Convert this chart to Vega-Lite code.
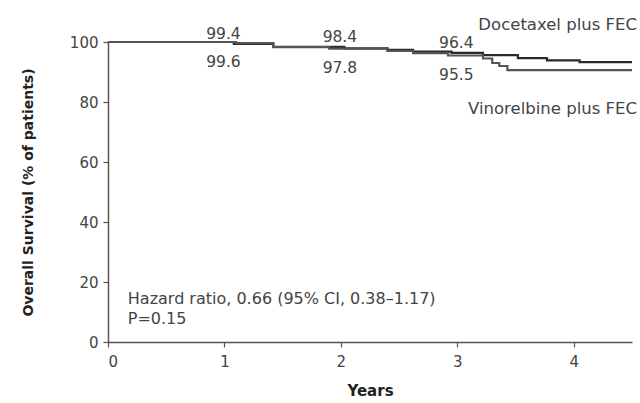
{
  "$schema": "https://vega.github.io/schema/vega-lite/v6.json",
  "width": 524,
  "height": 300,
  "autosize": {"type": "none"},
  "padding": {"left": 108, "top": 42, "right": 8, "bottom": 61},
  "background": "white",
  "config": {
    "font": "DejaVu Sans",
    "view": {"stroke": null},
    "text": {"font": "DejaVu Sans"},
    "axis": {
      "domainColor": "#555",
      "domainWidth": 1.5,
      "tickColor": "#555",
      "tickWidth": 1.2,
      "tickSize": 5,
      "grid": false,
      "labelFont": "DejaVu Sans",
      "labelFontSize": 15,
      "labelColor": "#444",
      "titleFont": "DejaVu Sans",
      "titleFontSize": 14,
      "titleFontWeight": "bold",
      "titleColor": "#222"
    }
  },
  "datasets": {
    "curves": [
      {"group": "Docetaxel plus FEC", "year": 0, "survival": 100},
      {"group": "Docetaxel plus FEC", "year": 1.08, "survival": 99.4},
      {"group": "Docetaxel plus FEC", "year": 1.42, "survival": 98.4},
      {"group": "Docetaxel plus FEC", "year": 2.03, "survival": 97.9},
      {"group": "Docetaxel plus FEC", "year": 2.4, "survival": 97.4},
      {"group": "Docetaxel plus FEC", "year": 2.62, "survival": 96.8},
      {"group": "Docetaxel plus FEC", "year": 2.95, "survival": 96.4},
      {"group": "Docetaxel plus FEC", "year": 3.22, "survival": 95.6},
      {"group": "Docetaxel plus FEC", "year": 3.52, "survival": 94.6},
      {"group": "Docetaxel plus FEC", "year": 3.77, "survival": 93.9},
      {"group": "Docetaxel plus FEC", "year": 4.05, "survival": 93.3},
      {"group": "Docetaxel plus FEC", "year": 4.5, "survival": 93.3},
      {"group": "Vinorelbine plus FEC", "year": 0, "survival": 100},
      {"group": "Vinorelbine plus FEC", "year": 1.1, "survival": 99.6},
      {"group": "Vinorelbine plus FEC", "year": 1.42, "survival": 98.3},
      {"group": "Vinorelbine plus FEC", "year": 1.9, "survival": 97.8},
      {"group": "Vinorelbine plus FEC", "year": 2.4, "survival": 97.0},
      {"group": "Vinorelbine plus FEC", "year": 2.62, "survival": 96.3},
      {"group": "Vinorelbine plus FEC", "year": 2.92, "survival": 95.5},
      {"group": "Vinorelbine plus FEC", "year": 3.22, "survival": 94.5},
      {"group": "Vinorelbine plus FEC", "year": 3.3, "survival": 93.0},
      {"group": "Vinorelbine plus FEC", "year": 3.36, "survival": 92.0},
      {"group": "Vinorelbine plus FEC", "year": 3.43, "survival": 90.6},
      {"group": "Vinorelbine plus FEC", "year": 4.5, "survival": 90.6}
    ],
    "labels": [
      {"group": "Docetaxel plus FEC", "year": 1, "survival": 99.4, "label": "99.4"},
      {"group": "Docetaxel plus FEC", "year": 2, "survival": 98.4, "label": "98.4"},
      {"group": "Docetaxel plus FEC", "year": 3, "survival": 96.4, "label": "96.4"},
      {"group": "Vinorelbine plus FEC", "year": 1, "survival": 99.6, "label": "99.6"},
      {"group": "Vinorelbine plus FEC", "year": 2, "survival": 97.8, "label": "97.8"},
      {"group": "Vinorelbine plus FEC", "year": 3, "survival": 95.5, "label": "95.5"}
    ],
    "names": [
      {"group": "Docetaxel plus FEC", "year": 4.5, "survival": 93.3},
      {"group": "Vinorelbine plus FEC", "year": 4.5, "survival": 90.6}
    ],
    "stats": [
      {"year": 0.17, "survival": 14.4, "text": "Hazard ratio, 0.66 (95% CI, 0.38\u20131.17)"},
      {"year": 0.17, "survival": 7.8, "text": "P=0.15"}
    ]
  },
  "layer": [
    {
      "data": {"name": "curves"},
      "mark": {"type": "line", "interpolate": "step-after", "strokeWidth": 2.2, "clip": false},
      "encoding": {
        "x": {
          "field": "year", "type": "quantitative",
          "scale": {"domain": [0, 4.5], "nice": false, "zero": true},
          "axis": {
            "title": "Years",
            "values": [0, 0.5, 1, 1.5, 2, 2.5, 3, 3.5, 4, 4.5],
            "format": "d",
            "labelExpr": "datum.value % 1 == 0 ? datum.label : ''",
            "labelPadding": 7,
            "titleFontSize": 15,
            "titlePadding": 14
          }
        },
        "y": {
          "field": "survival", "type": "quantitative",
          "scale": {"domain": [0, 100], "nice": false},
          "axis": {
            "title": "Overall Survival (% of patients)",
            "values": [0, 10, 20, 30, 40, 50, 60, 70, 80, 90, 100],
            "labelExpr": "datum.value % 20 == 0 ? datum.label : ''",
            "labelPadding": 5,
            "titlePadding": 34
          }
        },
        "detail": {"field": "group"},
        "color": {
          "field": "group", "type": "nominal",
          "scale": {"domain": ["Docetaxel plus FEC", "Vinorelbine plus FEC"], "range": ["#2a2a2a", "#555555"]},
          "legend": null
        }
      }
    },
    {
      "data": {"name": "labels"},
      "transform": [{"filter": "datum.group == 'Docetaxel plus FEC'"}],
      "mark": {"type": "text", "fontSize": 15.5, "color": "#444", "dy": -10, "dx": -1},
      "encoding": {
        "x": {"field": "year", "type": "quantitative"},
        "y": {"field": "survival", "type": "quantitative"},
        "text": {"field": "label"}
      }
    },
    {
      "data": {"name": "labels"},
      "transform": [{"filter": "datum.group == 'Vinorelbine plus FEC'"}],
      "mark": {"type": "text", "fontSize": 15.5, "color": "#444", "dy": 19, "dx": -1},
      "encoding": {
        "x": {"field": "year", "type": "quantitative"},
        "y": {"field": "survival", "type": "quantitative"},
        "text": {"field": "label"}
      }
    },
    {
      "data": {"name": "names"},
      "transform": [{"filter": "datum.group == 'Docetaxel plus FEC'"}],
      "mark": {"type": "text", "fontSize": 16.5, "color": "#444", "align": "right", "dy": -37, "dx": 5},
      "encoding": {
        "x": {"field": "year", "type": "quantitative"},
        "y": {"field": "survival", "type": "quantitative"},
        "text": {"field": "group"}
      }
    },
    {
      "data": {"name": "names"},
      "transform": [{"filter": "datum.group == 'Vinorelbine plus FEC'"}],
      "mark": {"type": "text", "fontSize": 16.5, "color": "#444", "align": "right", "dy": 39, "dx": 5},
      "encoding": {
        "x": {"field": "year", "type": "quantitative"},
        "y": {"field": "survival", "type": "quantitative"},
        "text": {"field": "group"}
      }
    },
    {
      "data": {"name": "stats"},
      "mark": {"type": "text", "fontSize": 16, "color": "#444", "align": "left"},
      "encoding": {
        "x": {"field": "year", "type": "quantitative"},
        "y": {"field": "survival", "type": "quantitative"},
        "text": {"field": "text"}
      }
    }
  ]
}
